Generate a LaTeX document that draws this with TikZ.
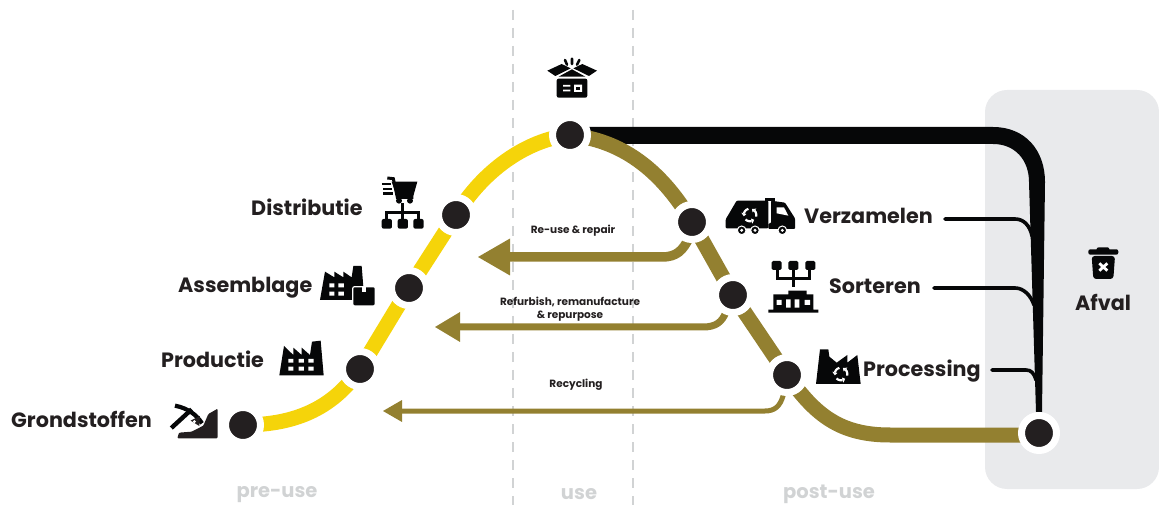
\documentclass[tikz,border=0pt]{standalone}
\usepackage{fontspec}
\setmainfont{Poppins}
\usetikzlibrary{backgrounds}
\definecolor{ink}{HTML}{231F20}
\definecolor{blk}{HTML}{060708}
\definecolor{ylw}{HTML}{F5D40A}
\definecolor{olv}{HTML}{938030}
\definecolor{dashc}{HTML}{D1D3D4}
\definecolor{panel}{HTML}{E9EAEC}
\newcommand{\recysign}[2]{%
  \begin{scope}[shift={(#1,#2)}]
    \foreach \ang in {90,210,330}{
      \pgfmathsetmacro{\aa}{\ang+45}
      \pgfmathsetmacro{\ab}{\ang+25}
      \pgfmathsetmacro{\ac}{\ang+5}
      \pgfmathsetmacro{\ad}{\ang-15}
      \pgfmathsetmacro{\ae}{\ang-42}
      \draw[white,line width=2.2pt,line join=round] (\aa:19) -- (\ab:19) -- (\ac:19) -- (\ad:19);
      \fill[white] (\ad:27) -- (\ad:11) -- (\ae:19) -- cycle;
    }
  \end{scope}}
\tikzset{
  dot/.style={circle,fill=ink,draw=white,line width=7pt,minimum size=35pt,inner sep=0pt},
  lab/.style={font=\bfseries\fontsize{20.7}{22}\selectfont,text=ink,inner sep=0pt},
  lab small/.style={font=\bfseries\fontsize{10.5}{13}\selectfont,text=ink,inner sep=0pt,align=center},
  phase/.style={font=\bfseries\fontsize{19.5}{21}\selectfont,text=dashc,inner sep=0pt},
  yline/.style={draw=ylw,line width=15pt},
  oline/.style={draw=olv,line width=15pt},
  guide/.style={draw=dashc,line width=2pt,dash pattern=on 10pt off 8pt},
  feed/.style={draw=blk,line width=3.6pt,line cap=round},
  ic/.style={fill=blk,draw=none},
  icw/.style={fill=white,draw=none}
}
\begin{document}
\begin{tikzpicture}[x=1pt,y=-1pt]
\useasboundingbox (0,0) rectangle (1159,510);
% stations
\node[dot] (grond) at (243,425) {};
\node[dot] (prod) at (360,369) {};
\node[dot] (assem) at (409,288) {};
\node[dot] (distr) at (456,215) {};
\node[dot] (top) at (570,135) {};
\node[dot] (verz) at (692,222) {};
\node[dot] (sort) at (733,295) {};
\node[dot] (proc) at (787,375) {};
\node[dot] (eind) at (1039,433) {};
\coordinate (eindin) at (1039,435);
% labels
\node[lab,anchor=base west] (tg) at (11,427) {Grondstoffen};
\node[lab,anchor=base west] (tp) at (161,367) {Productie};
\node[lab,anchor=base west] (ta) at (178,293) {Assemblage};
\node[lab,anchor=base west] (td) at (251,215.5) {Distributie};
\node[lab,anchor=base west] (tv) at (804,224) {Verzamelen};
\node[lab,anchor=base west] (ts) at (829,294) {Sorteren};
\node[lab,anchor=base west] (tc) at (863,377) {Processing};
\node[lab] (tf) at (1103,302) {Afval};
\node[lab small] (r1) at (573,231) {Re-use \& repair};
\node[lab small] (r2) at (570,309) {Refurbish, remanufacture\\\& repurpose};
\node[lab small] (r3) at (576,385) {Recycling};
\node[phase] (p1) at (277,494.5) {pre-use};
\node[phase] (p2) at (579,494.5) {use};
\node[phase] (p3) at (829,494.5) {post-use};
\coordinate (fv) at (945,219);
\coordinate (fs) at (934,288);
\coordinate (fp) at (992,370);
\coordinate (g1a) at (513,10); \coordinate (g1b) at (513,505);
\coordinate (g2a) at (633,10); \coordinate (g2b) at (633,505);
\coordinate (a1) at (510,257);
\coordinate (a2) at (460,327);
\coordinate (a3) at (402,411);
\begin{scope}[on background layer]
  \fill[panel,rounded corners=22pt] (985,90) rectangle (1159,489);
  \draw[guide] (g1a) -- (g1b);
  \draw[guide] (g2a) -- (g2b);
  % waste trunk
  \fill[blk] (570,127) -- (993,127) .. controls (1025,127) and (1045,150) .. (1045,182)
     -- (1042,412) -- (1036,412) -- (1029,182) .. controls (1029,160) and (1015,144) .. (993,144) -- (570,144) -- cycle;
  \draw[feed] (fv) -- (1015,219) .. controls (1024,219) and (1030,226) .. (1032,236);
  \draw[feed] (fs) -- (1015,288) .. controls (1024,288) and (1031,296) .. (1034,305);
  \draw[feed] (fp) -- (1026,370) .. controls (1031,370) and (1034,373) .. (1036,380);
  % yellow line
  \draw[yline] (grond.center) .. controls (300,425) and (335,405) .. (prod.center) -- (assem.center) -- (distr.center) .. controls (482,172) and (525,140) .. (top.center);
  % olive line
  \draw[oline] (top.center) .. controls (620,140) and (660,168) .. (verz.center) -- (sort.center) -- (proc.center) .. controls (815,415) and (840,435) .. (890,435) -- (eindin);
  % return lines
  \draw[draw=olv,line width=9.5pt] (verz.center) -- (689,238) .. controls (683,250) and (677,257) .. (662,257) -- (a1);
  \fill[olv] (478,257) -- (510,238.5) -- (510,275.5) -- cycle;
  \draw[draw=olv,line width=7pt] (sort.center) -- (726,312) .. controls (722,322) and (716,327) .. (703,327) -- (a2);
  \fill[olv] (435,327) -- (460,312) -- (460,342) -- cycle;
  \draw[draw=olv,line width=5pt] (proc.center) -- (783,396) .. controls (780,406) and (775,411) .. (765,411) -- (a3);
  \fill[olv] (383,411) -- (402,400) -- (402,422) -- cycle;
\end{scope}
% ---- left icons, zoom coordinates
\begin{scope}[shift={(0,160)},scale=1/3]
  % cart
  \fill[ic] (1175,65) -- (1252,65) -- (1240,108) -- (1190,108) -- cycle;
  \draw[blk,line width=3pt] (1162,54) -- (1180,56) -- (1192,112) -- (1240,112);
  \fill[ic] (1197,122) circle (9) (1230,122) circle (9);
  \draw[blk,line width=2.4pt] (1146,72) -- (1172,72) (1150,87) -- (1176,87) (1150,101) -- (1180,101);
  \draw[blk,line width=3.2pt] (1208,130) -- (1208,180) (1160,178) -- (1160,158) -- (1256,158) -- (1256,178);
  \fill[ic,rounded corners=2pt] (1145,177) rectangle (1176,206) (1193,177) rectangle (1224,206) (1240,177) rectangle (1271,206);
  % assembly factory
  \fill[ic] (960,420) -- (1062,420) -- (1062,395) -- (1090,380) -- (1085,318) -- (1060,318) -- (1055,352) -- (1030,335) -- (1030,352) -- (1003,335) -- (1003,352) -- (975,335) -- cycle;
  \fill[icw] (988,370) rectangle (1003,382) (1015,370) rectangle (1032,382) (988,395) rectangle (1003,407) (1015,395) rectangle (1032,407);
  \filldraw[fill=blk,draw=white,rounded corners=2pt,line width=1.2pt] (1058,380) rectangle (1126,438);
  \fill[icw] (1087,380) rectangle (1097,395);
  % factory
  \fill[ic] (838,646) -- (971,646) -- (962,542) -- (936,545) -- (930,585) -- (905,563) -- (905,585) -- (880,563) -- (880,585) -- (852,558) -- cycle;
  \fill[icw] (865,597) rectangle (880,608) (896,597) rectangle (912,608) (925,597) rectangle (941,608) (865,620) rectangle (880,632) (896,620) rectangle (912,632) (925,620) rectangle (941,632);
  % pick and mound
  \fill[ink,rounded corners=1pt] (532,835) -- (653,835) -- (653,746) -- (625,762) -- (610,797) -- (575,815) -- (537,818) -- cycle;
  \draw[blk,line width=4.4pt] (514,804) -- (575,748);
  \draw[blk,line width=4.2pt] (525,737) .. controls (565,745) and (590,765) .. (606,790);
  \fill[ink] (572,782) -- (600,768) -- (598,798) -- cycle;
  \fill[white] (583,785) circle (5);
\end{scope}
% ---- top icons
\begin{scope}[shift={(460,50)},scale=1/3]
  % open box
  \fill[ic,rounded corners=2pt] (290,86) rectangle (382,143);
  \fill[ic] (296,80) -- (336,58) -- (376,80) -- cycle;
  \fill[ic] (262,62) -- (305,42) -- (332,55) -- (286,78) -- cycle;
  \fill[ic] (411,62) -- (367,42) -- (340,55) -- (387,78) -- cycle;
  \draw[blk,line width=2.6pt,line cap=round] (315,30) -- (321,44) (336,26) -- (336,42) (358,30) -- (351,44);
  \fill[icw] (309,105) rectangle (331,110) (309,119) rectangle (331,124) (342,104) rectangle (366,126);
  \fill[ic] (349,111) rectangle (359,119);
  % truck
  \fill[ic,rounded corners=1pt] (797,535) -- (797,508) -- (830,452) -- (925,452) -- (925,535) -- cycle;
  \fill[ic] (915,443) rectangle (945,452);
  \fill[ic,rounded corners=1pt] (933,452) -- (975,458) -- (1005,505) -- (1005,537) -- (925,537) -- (925,520) -- (933,520) -- cycle;
  \fill[icw] (950,472) -- (972,472) -- (985,497) -- (950,490) -- cycle;
  \filldraw[fill=blk,draw=white,line width=1pt] (845,541) circle (13) (885,541) circle (13) (967,541) circle (13);
  \fill[icw] (845,541) circle (5) (885,541) circle (5) (967,541) circle (5);
  \recysign{870}{495}
\end{scope}
% ---- right icons
\begin{scope}[shift={(700,180)},scale=1/3]
  % sorter
  \fill[ic,rounded corners=1.5pt] (215,243) rectangle (245,270) (265,243) rectangle (295,270) (316,243) rectangle (346,270);
  \draw[blk,line width=2.8pt] (232,268) -- (232,296) -- (328,296) -- (328,268) (280,268) -- (280,320);
  \fill[ic] (265,332) rectangle (320,345) (220,343) rectangle (340,392) (205,389) rectangle (355,398);
  \fill[icw] (230,360) rectangle (245,375) (258,358) rectangle (272,383) (284,358) rectangle (298,383) (314,360) rectangle (330,375);
  % recycling factory
  \fill[ic] (348,612) -- (482,612) -- (472,525) -- (442,548) -- (442,525) -- (410,548) -- (388,530) -- (385,508) -- (360,508) -- cycle;
  \recysign{423}{582}
  % bin
  \fill[ic,rounded corners=2pt] (1165,208) rectangle (1255,224) (1190,202) rectangle (1228,212);
  \fill[ic,rounded corners=3pt] (1175,228) -- (1245,228) -- (1240,297) -- (1180,297) -- cycle;
  \draw[white,line width=2.8pt] (1198,250) -- (1222,272) (1222,250) -- (1198,272);
\end{scope}
\end{tikzpicture}
\end{document}
